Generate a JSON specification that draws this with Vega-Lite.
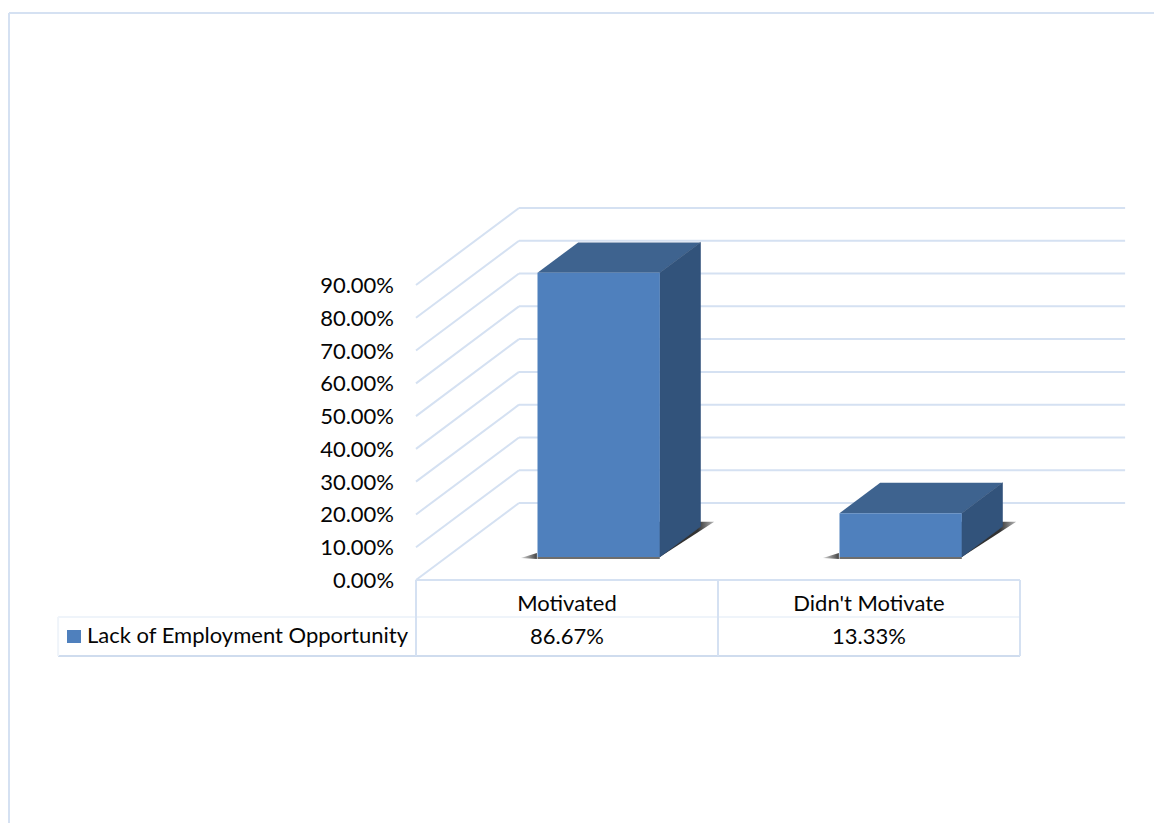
{
  "$schema": "https://vega.github.io/schema/vega-lite/v6.json",
  "width": 604,
  "height": 295,
  "autosize": {"type": "none"},
  "padding": {"left": 416, "top": 285, "right": 134, "bottom": 243},
  "background": "white",
  "config": {
    "view": {"stroke": null},
    "axisX": {"disable": true},
    "font": "Lato",
    "text": {"font": "Lato", "fontSize": 22, "color": "#050505"}
  },
  "datasets": {
    "bars": [
      {"category": "Motivated", "index": 0, "value": 0.8667, "series": "Lack of Employment Opportunity"},
      {"category": "Didn't Motivate", "index": 1, "value": 0.1333, "series": "Lack of Employment Opportunity"}
    ],
    "ticks": [
      {"tick": 0}, {"tick": 0.1}, {"tick": 0.2}, {"tick": 0.3}, {"tick": 0.4},
      {"tick": 0.5}, {"tick": 0.6}, {"tick": 0.7}, {"tick": 0.8}, {"tick": 0.9}
    ],
    "single": [{"part": "chart furniture"}]
  },
  "layer": [
    {
      "description": "Back wall gridlines",
      "data": {"name": "ticks"},
      "transform": [
        {"calculate": "datum.tick + 0.2349", "as": "back"},
        {"calculate": "0.341", "as": "xa"},
        {"calculate": "2.348", "as": "xb"}
      ],
      "mark": {"type": "rule", "stroke": "#d5e1f2", "strokeWidth": 2},
      "encoding": {
        "x": {"field": "xa", "type": "quantitative", "scale": {"domain": [0, 2], "nice": false, "zero": false}},
        "x2": {"field": "xb"},
        "y": {
          "field": "back",
          "type": "quantitative",
          "title": null,
          "scale": {"domain": [0, 0.9], "nice": false, "zero": false},
          "axis": null
        }
      }
    },
    {
      "description": "Side wall gridlines running from the front edge to the back wall",
      "data": {"name": "ticks"},
      "transform": [
        {"calculate": "datum.tick + 0.2349", "as": "back"},
        {"calculate": "0", "as": "xa"},
        {"calculate": "0.341", "as": "xb"}
      ],
      "mark": {"type": "rule", "stroke": "#d5e1f2", "strokeWidth": 2},
      "encoding": {
        "x": {"field": "xa", "type": "quantitative"},
        "x2": {"field": "xb"},
        "y": {"field": "tick", "type": "quantitative", "title": null, "axis": null},
        "y2": {"field": "back"}
      }
    },
    {
      "description": "Value scale labels along the front edge",
      "data": {"name": "ticks"},
      "mark": {"type": "text", "align": "right", "baseline": "middle", "yOffset": 1},
      "encoding": {
        "x": {"datum": -0.0728, "type": "quantitative"},
        "y": {"field": "tick", "type": "quantitative", "title": null, "axis": null},
        "text": {"field": "tick", "type": "quantitative", "format": ".2%"}
      }
    },
    {
      "description": "Floor shadow cast to the right of each column",
      "data": {"name": "bars"},
      "transform": [
        {"calculate": "[0.3, 0.755]", "as": "d"},
        {"flatten": ["d"]},
        {"calculate": "datum.d * 0.2349", "as": "fy"},
        {"calculate": "datum.index + 0.5 + datum.d * 0.341", "as": "xa"},
        {"calculate": "datum.index + (datum.d < 0.5 ? 0.705 : 0.73) + datum.d * 0.341", "as": "xb"}
      ],
      "mark": {
        "type": "area",
        "orient": "horizontal",
        "fill": {
          "gradient": "linear",
          "x1": 0, "y1": 0, "x2": 1, "y2": 0,
          "stops": [
            {"offset": 0, "color": "#2c2c2c"},
            {"offset": 0.86, "color": "#333333"},
            {"offset": 1, "color": "#b8b8b8"}
          ]
        }
      },
      "encoding": {
        "detail": {"field": "category"},
        "x": {"field": "xa", "type": "quantitative"},
        "x2": {"field": "xb"},
        "y": {"field": "fy", "type": "quantitative", "title": null, "axis": null}
      }
    },
    {
      "description": "Tapered shadow to the left of each column",
      "data": {"name": "bars"},
      "transform": [
        {"calculate": "[0, 1]", "as": "d"},
        {"flatten": ["d"]},
        {"calculate": "datum.index + 0.245 + 0.1023 + datum.d * 0.053", "as": "wx"},
        {"calculate": "0.0671 + datum.d * 0.0153", "as": "ya"},
        {"calculate": "0.0641 + (1 - datum.d) * 0.003", "as": "yb"}
      ],
      "mark": {
        "type": "area",
        "orient": "vertical",
        "fill": {
          "gradient": "linear",
          "x1": 0, "y1": 0, "x2": 1, "y2": 0,
          "stops": [
            {"offset": 0, "color": "#d8d8d8"},
            {"offset": 1, "color": "#444444"}
          ]
        }
      },
      "encoding": {
        "detail": {"field": "category"},
        "x": {"field": "wx", "type": "quantitative"},
        "y": {"field": "ya", "type": "quantitative", "title": null, "axis": null},
        "y2": {"field": "yb"}
      }
    },
    {
      "description": "Thin contact shadow under the front of each column",
      "data": {"name": "bars"},
      "transform": [
        {"calculate": "datum.index + 0.3 + 0.3 * 0.341", "as": "xa"},
        {"calculate": "datum.index + 0.705 + 0.3 * 0.341", "as": "xb"},
        {"calculate": "0.0705", "as": "ya"},
        {"calculate": "0.0641", "as": "yb"}
      ],
      "mark": {"type": "rect", "fill": "#6e6e6e"},
      "encoding": {
        "x": {"field": "xa", "type": "quantitative"},
        "x2": {"field": "xb"},
        "y": {"field": "ya", "type": "quantitative", "title": null, "axis": null},
        "y2": {"field": "yb"}
      }
    },
    {
      "description": "Column top face",
      "data": {"name": "bars"},
      "transform": [
        {"calculate": "[0.3, 0.695]", "as": "d"},
        {"flatten": ["d"]},
        {"calculate": "datum.value + datum.d * 0.2349", "as": "ty"},
        {"calculate": "datum.index + 0.3 + datum.d * 0.341", "as": "xa"},
        {"calculate": "datum.index + 0.705 + datum.d * 0.341", "as": "xb"}
      ],
      "mark": {"type": "area", "orient": "horizontal", "fill": "#3e638f"},
      "encoding": {
        "detail": {"field": "category"},
        "x": {"field": "xa", "type": "quantitative"},
        "x2": {"field": "xb"},
        "y": {"field": "ty", "type": "quantitative", "title": null, "axis": null}
      }
    },
    {
      "description": "Column side face",
      "data": {"name": "bars"},
      "transform": [
        {"calculate": "[0.3, 0.695]", "as": "d"},
        {"flatten": ["d"]},
        {"calculate": "datum.index + 0.705 + datum.d * 0.341", "as": "sx"},
        {"calculate": "datum.d * 0.2349", "as": "ya"},
        {"calculate": "datum.value + datum.d * 0.2349", "as": "yb"}
      ],
      "mark": {"type": "area", "orient": "vertical", "fill": "#32537b", "stroke": "#32537b", "strokeWidth": 0.6},
      "encoding": {
        "detail": {"field": "category"},
        "x": {"field": "sx", "type": "quantitative"},
        "y": {"field": "ya", "type": "quantitative", "title": null, "axis": null},
        "y2": {"field": "yb"}
      }
    },
    {
      "description": "Column front face",
      "data": {"name": "bars"},
      "transform": [
        {"calculate": "datum.index + 0.3 + 0.3 * 0.341", "as": "xa"},
        {"calculate": "datum.index + 0.705 + 0.3 * 0.341", "as": "xb"},
        {"calculate": "0.3 * 0.2349", "as": "ya"},
        {"calculate": "datum.value + 0.3 * 0.2349", "as": "yb"}
      ],
      "mark": {"type": "rect", "fill": "#4f80bd"},
      "encoding": {
        "x": {"field": "xa", "type": "quantitative"},
        "x2": {"field": "xb"},
        "y": {"field": "ya", "type": "quantitative", "title": null, "axis": null},
        "y2": {"field": "yb"}
      }
    },
    {
      "description": "Data table: top border",
      "data": {"name": "single"},
      "mark": {"type": "rule", "stroke": "#d5e1f2", "strokeWidth": 2},
      "encoding": {
        "x": {"datum": 0, "type": "quantitative"},
        "x2": {"datum": 2},
        "y": {"datum": 0, "type": "quantitative", "title": null, "axis": null}
      }
    },
    {
      "description": "Data table: faint row divider",
      "data": {"name": "single"},
      "mark": {"type": "rule", "stroke": "#eff4fa", "strokeWidth": 2},
      "encoding": {
        "x": {"datum": -1.185, "type": "quantitative"},
        "x2": {"datum": 2},
        "y": {"datum": -0.1129, "type": "quantitative", "title": null, "axis": null}
      }
    },
    {
      "description": "Data table: bottom border",
      "data": {"name": "single"},
      "mark": {"type": "rule", "stroke": "#cfdcee", "strokeWidth": 2},
      "encoding": {
        "x": {"datum": -1.185, "type": "quantitative"},
        "x2": {"datum": 2},
        "y": {"datum": -0.2318, "type": "quantitative", "title": null, "axis": null}
      }
    },
    {
      "description": "Data table: column dividers",
      "data": {"values": [{"column": 0}, {"column": 1}, {"column": 2}]},
      "mark": {"type": "rule", "stroke": "#d5e1f2", "strokeWidth": 2},
      "encoding": {
        "x": {"field": "column", "type": "quantitative"},
        "y": {"datum": 0, "type": "quantitative", "title": null, "axis": null},
        "y2": {"datum": -0.2318}
      }
    },
    {
      "description": "Data table: legend cell left edge",
      "data": {"name": "single"},
      "mark": {"type": "rule", "stroke": "#eff4fa", "strokeWidth": 2},
      "encoding": {
        "x": {"datum": -1.185, "type": "quantitative"},
        "y": {"datum": -0.1129, "type": "quantitative", "title": null, "axis": null},
        "y2": {"datum": -0.2318}
      }
    },
    {
      "description": "Category names in the table header",
      "data": {"name": "bars"},
      "transform": [{"calculate": "datum.index + 0.5", "as": "mid"}],
      "mark": {"type": "text", "align": "center", "baseline": "middle"},
      "encoding": {
        "x": {"field": "mid", "type": "quantitative"},
        "y": {"datum": -0.0732, "type": "quantitative", "title": null, "axis": null},
        "text": {"field": "category"}
      }
    },
    {
      "description": "Values in the table body",
      "data": {"name": "bars"},
      "transform": [{"calculate": "datum.index + 0.5", "as": "mid"}],
      "mark": {"type": "text", "align": "center", "baseline": "middle"},
      "encoding": {
        "x": {"field": "mid", "type": "quantitative"},
        "y": {"datum": -0.174, "type": "quantitative", "title": null, "axis": null},
        "text": {"field": "value", "type": "quantitative", "format": ".2%"}
      }
    },
    {
      "description": "Legend key",
      "data": {"name": "single"},
      "mark": {"type": "rect", "fill": "#4f80bd"},
      "encoding": {
        "x": {"datum": -1.1556, "type": "quantitative"},
        "x2": {"datum": -1.1093},
        "y": {"datum": -0.1525, "type": "quantitative", "title": null, "axis": null},
        "y2": {"datum": -0.1922}
      }
    },
    {
      "description": "Legend label",
      "data": {"name": "bars"},
      "transform": [{"filter": "datum.index === 0"}],
      "mark": {"type": "text", "align": "left", "baseline": "middle"},
      "encoding": {
        "x": {"datum": -1.0894, "type": "quantitative"},
        "y": {"datum": -0.1708, "type": "quantitative", "title": null, "axis": null},
        "text": {"field": "series"}
      }
    },
    {
      "description": "Chart area frame, top edge",
      "data": {"name": "single"},
      "mark": {"type": "rule", "stroke": "#d5e1f2", "strokeWidth": 2},
      "encoding": {
        "x": {"datum": -1.3477, "type": "quantitative"},
        "x2": {"datum": 2.4437},
        "y": {"datum": 1.7297, "type": "quantitative", "title": null, "axis": null}
      }
    },
    {
      "description": "Chart area frame, left edge",
      "data": {"name": "single"},
      "mark": {"type": "rule", "stroke": "#d5e1f2", "strokeWidth": 2},
      "encoding": {
        "x": {"datum": -1.3477, "type": "quantitative"},
        "y": {"datum": 1.7297, "type": "quantitative", "title": null, "axis": null},
        "y2": {"datum": -0.7413}
      }
    }
  ]
}
